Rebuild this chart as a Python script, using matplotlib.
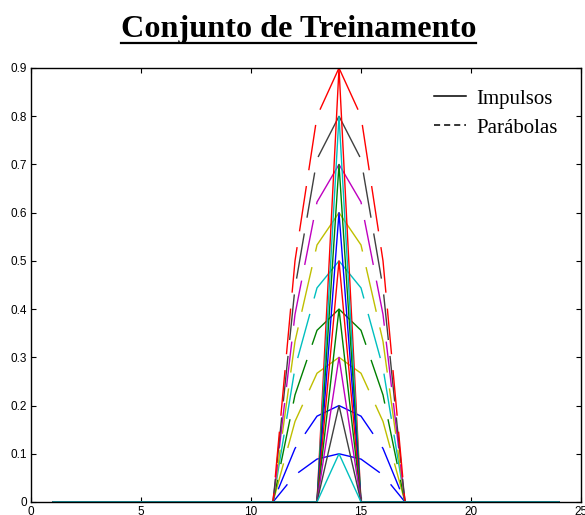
import matplotlib
matplotlib.use('Agg')
import matplotlib.pyplot as plt
from matplotlib.lines import Line2D

# ─── DATA ─────────────────────────────────────────────────────────────────────
x = list(range(1, 25))
peak_heights = [0.1, 0.2, 0.3, 0.4, 0.5, 0.6, 0.7, 0.8, 0.9]
peak_pos = 14

# parabola values at x = 11..17, one row per peak height
par_x = [11, 12, 13, 14, 15, 16, 17]
par_rows = [
    [0, 0.056, 0.089, 0.1, 0.089, 0.056, 0],
    [0, 0.111, 0.178, 0.2, 0.178, 0.111, 0],
    [0, 0.167, 0.267, 0.3, 0.267, 0.167, 0],
    [0, 0.222, 0.356, 0.4, 0.356, 0.222, 0],
    [0, 0.278, 0.444, 0.5, 0.444, 0.278, 0],
    [0, 0.333, 0.533, 0.6, 0.533, 0.333, 0],
    [0, 0.389, 0.622, 0.7, 0.622, 0.389, 0],
    [0, 0.444, 0.711, 0.8, 0.711, 0.444, 0],
    [0, 0.5, 0.8, 0.9, 0.8, 0.5, 0],
]

# MATLAB-like colours
MC = {'b': (0, 0, 1), 'g': (0, 0.5, 0), 'r': (1, 0, 0), 'c': (0, 0.75, 0.75),
      'm': (0.75, 0, 0.75), 'y': (0.75, 0.75, 0), 'k': (0.25, 0.25, 0.25)}
imp_colors = ['c', 'k', 'm', 'g', 'r', 'b', 'g', 'c', 'r']
par_colors = ['b', 'b', 'y', 'g', 'c', 'y', 'm', 'k', 'r']

DASH = (0, (33, 11.5))

# ─── PLOT ─────────────────────────────────────────────────────────────────────
fig = plt.figure(figsize=(5.85, 5.15), dpi=100)
ax = fig.add_axes([31/585, 13/515, 550/585, 434/515])

# parabolas (dashed) - each half drawn outward from the peak so the dash
# pattern is symmetric, like the original
ip = x.index(peak_pos)
for row, col in zip(par_rows, par_colors):
    y = [0.0] * len(x)
    for xi, v in zip(par_x, row):
        y[x.index(xi)] = v
    ax.plot(x[ip::-1], y[ip::-1], color=MC[col], lw=1.0, linestyle=DASH)
    ax.plot(x[ip:], y[ip:], color=MC[col], lw=1.0, linestyle=DASH)

# impulses (solid), tallest first so the smallest ends on top
for h, col in reversed(list(zip(peak_heights, imp_colors))):
    y = [0.0] * len(x)
    y[ip] = h
    ax.plot(x, y, color=MC[col], lw=1.0)

ax.set_xlim(0, 25)
ax.set_ylim(0, 0.9)
ax.set_xticks([0, 5, 10, 15, 20, 25])
ax.set_yticks([0, 0.1, 0.2, 0.3, 0.4, 0.5, 0.6, 0.7, 0.8, 0.9])
ax.set_yticklabels(['0', '0.1', '0.2', '0.3', '0.4', '0.5', '0.6', '0.7', '0.8', '0.9'])
ax.tick_params(direction='in', top=True, right=True, length=3.5, width=0.8,
               labelsize=8.5, pad=3)
for lab in ax.get_xticklabels() + ax.get_yticklabels():
    lab.set_family('Liberation Sans')
for sp in ax.spines.values():
    sp.set_linewidth(1.0)

handles = [Line2D([], [], color='black', lw=1.1),
           Line2D([], [], color='black', lw=1.1, linestyle=(0, (4, 2.6)))]
fig.legend(handles, ['Impulsos', 'Parábolas'], loc='upper right',
           bbox_to_anchor=(558/585, 1 - 89/515), frameon=False,
           prop={'family': 'Liberation Serif', 'size': 15},
           handlelength=1.55, handletextpad=0.5, labelspacing=0.45,
           borderpad=0, borderaxespad=0)

title = fig.text(298.5/585, 1 - 37/515, 'Conjunto de Treinamento', ha='center',
                 va='baseline', fontsize=23.2, fontweight='bold',
                 family='Liberation Serif')
fig.canvas.draw()
bb = title.get_window_extent().transformed(fig.transFigure.inverted())
fig.add_artist(Line2D([bb.x0, bb.x1], [1 - 42.5/515] * 2, color='black', lw=1.6,
                      transform=fig.transFigure))

fig.savefig('out.png', dpi=100)
